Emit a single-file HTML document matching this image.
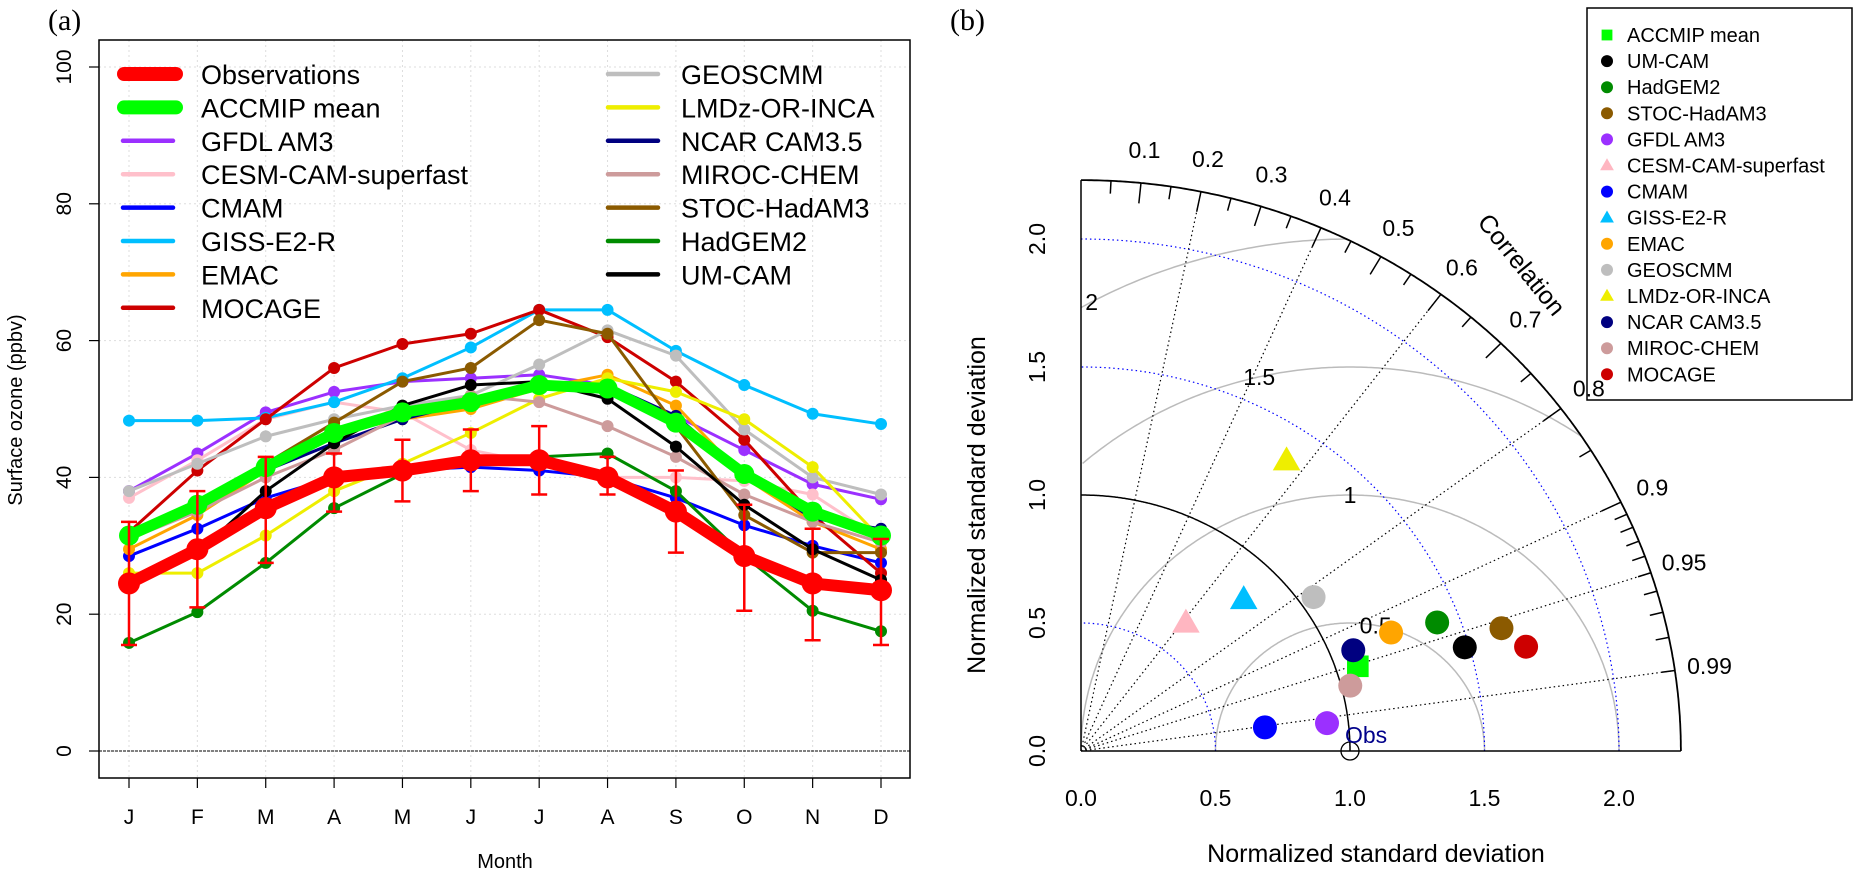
<!DOCTYPE html>
<html><head><meta charset="utf-8"><style>
body{margin:0;background:#fff}
svg{display:block;font-family:"Liberation Sans",sans-serif}
</style></head><body>
<svg id="chart" width="1858" height="874" viewBox="0 0 1858 874" xmlns="http://www.w3.org/2000/svg"></svg>
<script>
// ---------- Panel (a) data ----------
const months = ["J","F","M","A","M","J","J","A","S","O","N","D"];
const yTicks = [0,20,40,60,80,100];
const obsValues = [24.5,29.5,35.5,40,41,42.5,42.5,40,35,28.5,24.5,23.5];
const obsLow = [15.5,21,27.5,35,36.5,38,37.5,37.5,29,20.5,16.2,15.5];
const obsHigh = [33.5,38,43,43.5,45.5,47,47.5,43,41,36,32.5,31];
const accmipMean = [31.5,36,41.5,46.5,49.5,51,53.5,53,48,40.5,35,31.5];
const gfdl = [38,43.5,49.5,52.5,54,54.5,55,53.5,49,44,39,36.8];
const cesm = [37,42.5,48.5,51,49.5,44,42,40,40,39.5,37.5,31];
const cmam = [28.5,32.5,37,40,41,41.5,41,40,37,33,30,27.5];
const giss = [48.3,48.3,48.7,51,54.5,59,64.5,64.5,58.5,53.5,49.3,47.8];
const emac = [29.5,34.5,41,46.5,48.5,50,53,55,50.5,40,33.5,29.5];
const mocage = [32,41,48.5,56,59.5,61,64.5,60.5,54,45.5,34.5,26];
const geoscmm = [38,42,46,48.5,50.5,52,56.5,61.5,57.8,47,40,37.5];
const lmdz = [26,26,31.5,38,42,46.5,51.5,54.5,52.5,48.5,41.5,31];
const ncar = [32,35.5,41,45,48.5,51,53.5,53.5,49,40.5,34,32.5];
const miroc = [31,35,40,44,49,52,51,47.5,43,37.5,33.5,30.5];
const stoc = [32,36.5,42,48,54,56,63,61,47.5,34.5,29,29];
const hadgem = [15.8,20.3,27.5,35.5,40.5,42.5,43,43.5,38,28.5,20.5,17.5];
const umcam = [25,29,38,45,50.5,53.5,54,51.5,44.5,36,29.5,25];

// ---------- Panel (b) data ----------
const taylorNames = ["ACCMIP mean","UM-CAM","HadGEM2","STOC-HadAM3","GFDL AM3","CESM-CAM-superfast","CMAM","GISS-E2-R","EMAC","GEOSCMM","LMDz-OR-INCA","NCAR CAM3.5","MIROC-CHEM","MOCAGE"];
const taylorSd = [1.081,1.483,1.416,1.635,0.921,0.634,0.690,0.846,1.242,1.053,1.367,1.086,1.033,1.704];
const taylorCorr = [0.952,0.962,0.935,0.956,0.993,0.615,0.991,0.715,0.928,0.821,0.559,0.932,0.969,0.971];
const corrTicks = [0.1,0.2,0.3,0.4,0.5,0.6,0.7,0.8,0.9,0.95,0.99];
const corrLines = [0.2,0.4,0.6,0.8,0.9,0.95,0.99];
const sdTicks = [0,0.5,1,1.5,2];
const rmsLevels = [0.5,1,1.5,2];

const NS="http://www.w3.org/2000/svg";
const svg=document.getElementById('chart');
function mk(tag,attrs,parent){const e=document.createElementNS(NS,tag);for(const k in attrs)e.setAttribute(k,attrs[k]);(parent||svg).appendChild(e);return e;}
function txt(s,attrs,parent){const e=mk('text',attrs,parent);e.textContent=s;return e;}

// ---------- Panel (a) ----------
const A={l:99,r:910,t:40,b:778};
const xA=i=>129+i*(881-129)/11;
const yA=v=>751-v*6.84;
const gA=mk('g',{});


let t=txt('(a)',{x:48,y:30,'font-family':'Liberation Serif,serif','font-size':30},gA);

months.forEach((m,i)=>{mk('line',{x1:xA(i),x2:xA(i),y1:A.t,y2:A.b,stroke:'#ddd','stroke-dasharray':'2,3'},gA);});
yTicks.forEach(v=>{mk('line',{x1:A.l,x2:A.r,y1:yA(v),y2:yA(v),stroke:'#ddd','stroke-dasharray':'2,3'},gA);});
let zl=mk('line',{x1:A.l,x2:A.r,y1:yA(0),y2:yA(0),stroke:'#000','stroke-width':1,'stroke-dasharray':'3,1'},gA);

let box=mk('rect',{x:A.l,y:A.t,width:A.r-A.l,height:A.b-A.t,fill:'none',stroke:'#000','stroke-width':1.5},gA);

months.forEach((m,i)=>{
  mk('line',{x1:xA(i),x2:xA(i),y1:A.b,y2:A.b+10,stroke:'#000','stroke-width':1.2},gA);
  const e=txt(m,{x:xA(i),y:824,'text-anchor':'middle','font-size':21},gA);
  
});
yTicks.forEach(v=>{
  mk('line',{x1:A.l,x2:A.l-10,y1:yA(v),y2:yA(v),stroke:'#000','stroke-width':1.2},gA);
  const e=txt(String(v),{x:0,y:0,'text-anchor':'middle','font-size':21,transform:`translate(71,${yA(v)}) rotate(-90)`},gA);
  
});
t=txt('Month',{x:505,y:868,'text-anchor':'middle','font-size':20},gA);

t=txt('Surface ozone (ppbv)',{x:0,y:0,'text-anchor':'middle','font-size':20,transform:'translate(22,410) rotate(-90)'},gA);


const series=[
 ['GFDL AM3',gfdl,'#9b30ff'],['CESM-CAM-superfast',cesm,'#ffc0cb'],['CMAM',cmam,'#0000ff'],['GISS-E2-R',giss,'#00bfff'],
 ['EMAC',emac,'#ffa500'],['MOCAGE',mocage,'#cd0000'],['GEOSCMM',geoscmm,'#bebebe'],['LMDz-OR-INCA',lmdz,'#eeee00'],
 ['NCAR CAM3.5',ncar,'#000080'],['MIROC-CHEM',miroc,'#cd9b9b'],['STOC-HadAM3',stoc,'#8b5a00'],['HadGEM2',hadgem,'#008b00'],['UM-CAM',umcam,'#000000']];
function drawSeries(name,vals,color,w,r){
  const g=mk('g',{},gA);
  
  
  mk('polyline',{points:vals.map((v,i)=>xA(i)+','+yA(v)).join(' '),fill:'none',stroke:color,'stroke-width':w,'stroke-linejoin':'round'},g);
  vals.forEach((v,i)=>{const c=mk('circle',{cx:xA(i),cy:yA(v),r:r,fill:color},g);
    });
}
series.forEach(s=>drawSeries(s[0],s[1],s[2],3,6));
drawSeries('ACCMIP mean',accmipMean,'#00ff00',11,10);
const gE=mk('g',{},gA);

obsValues.forEach((v,i)=>{
  const x=xA(i);
  mk('line',{x1:x,x2:x,y1:yA(obsLow[i]),y2:yA(obsHigh[i]),stroke:'#ff0000','stroke-width':2.5},gE);
  mk('line',{x1:x-8,x2:x+8,y1:yA(obsLow[i]),y2:yA(obsLow[i]),stroke:'#ff0000','stroke-width':2.5},gE);
  mk('line',{x1:x-8,x2:x+8,y1:yA(obsHigh[i]),y2:yA(obsHigh[i]),stroke:'#ff0000','stroke-width':2.5},gE);
});
drawSeries('Observations',obsValues,'#ff0000',12,11);

const legA=[['Observations','#ff0000',14],['ACCMIP mean','#00ff00',14],['GFDL AM3','#9b30ff',4.5],['CESM-CAM-superfast','#ffc0cb',4.5],['CMAM','#0000ff',4.5],['GISS-E2-R','#00bfff',4.5],['EMAC','#ffa500',4.5],['MOCAGE','#cd0000',4.5],
 ['GEOSCMM','#bebebe',4.5],['LMDz-OR-INCA','#eeee00',4.5],['NCAR CAM3.5','#000080',4.5],['MIROC-CHEM','#cd9b9b',4.5],['STOC-HadAM3','#8b5a00',4.5],['HadGEM2','#008b00',4.5],['UM-CAM','#000000',4.5]];
const gL=mk('g',{},gA);

legA.forEach((e,i)=>{
  const col=i<8?0:1,row=i<8?i:i-8;
  const y=74+row*33.4;
  const lx=col?603:118, tx=col?681:201;
  const g=mk('g',{},gL);
  
  const thick=e[2]>5;
  mk('line',{x1:lx+(thick?6:5),x2:lx+(thick?58:55),y1:y,y2:y,stroke:e[1],'stroke-width':e[2],'stroke-linecap':'round'},g);
  txt(e[0],{x:tx,y:y+10,'font-size':27,textLength:'',},g);
});

// ---------- Panel (b) ----------
const O={x:1081,y:751},SX=269,SY=256,R=2.23;
const px=u=>O.x+u*SX, py=v=>O.y-v*SY;
const tColors=['#00ff00','#000000','#008b00','#8b5a00','#9b30ff','#ffb6c1','#0000ff','#00bfff','#ffa500','#bebebe','#eeee00','#000080','#cd9b9b','#cd0000'];
const tShapes=['sq','c','c','c','c','tri','c','tri','c','c','tri','c','c','c'];
function marker(shape,x,y,s,col,parent){
  if(shape==='sq')return mk('rect',{x:x-s*0.9,y:y-s*0.9,width:s*1.8,height:s*1.8,fill:col},parent);
  if(shape==='tri')return mk('polygon',{points:`${x},${y-s*1.2} ${x-s*1.15},${y+s*0.8} ${x+s*1.15},${y+s*0.8}`,fill:col},parent);
  return mk('circle',{cx:x,cy:y,r:s,fill:col},parent);
}
// legend b (drawn first so labels can overlap it)
const gLB=mk('g',{});

mk('rect',{x:1587,y:8,width:265,height:392,fill:'#fff',stroke:'#000','stroke-width':1.5},gLB);
taylorNames.forEach((n,i)=>{const y=35+i*26.1;
  const g=mk('g',{},gLB);
  
  marker(tShapes[i],1607,y,6,tColors[i],g);
  txt(n,{x:1627,y:y+7,'font-size':20},g);});

const gB=mk('g',{});

t=txt('(b)',{x:950,y:30,'font-family':'Liberation Serif,serif','font-size':30},gB);

function arcPath(cx,cy,r,a0,a1,filter){let d='',pen=false;for(let k=0;k<=360;k++){const a=a0+(a1-a0)*k/360;const u=cx+r*Math.cos(a),v=cy+r*Math.sin(a);
  if(filter&&!filter(u,v)){pen=false;continue;}d+=(pen?'L':'M')+px(u).toFixed(1)+','+py(v).toFixed(1);pen=true;}return d;}
rmsLevels.forEach(r=>{const p=mk('path',{d:arcPath(1,0,r,0,Math.PI,(u,v)=>u*u+v*v<=R*R&&v>=0&&u>=0),fill:'none',stroke:'#bbb','stroke-width':1.5},gB);
  });
const rmsLab=[[0.5,79],[1,90],[1.5,103],[2,118.7]];
rmsLab.forEach(([r,a])=>{const u=1+r*Math.cos(a*Math.PI/180),v=r*Math.sin(a*Math.PI/180);
  const e=txt(String(r),{x:px(u),y:py(v)+8,'text-anchor':'middle','font-size':23},gB);
  });
[0.5,1.5,2].forEach(r=>{const p=mk('path',{d:arcPath(0,0,r,0,Math.PI/2),fill:'none',stroke:'#0000ff','stroke-width':1.2,'stroke-dasharray':'1.5,3'},gB);
  });
let p1=mk('path',{d:arcPath(0,0,1,0,Math.PI/2),fill:'none',stroke:'#000','stroke-width':1.5},gB);

corrLines.forEach(c=>{const a=Math.acos(c);
  const l=mk('line',{x1:px(0),y1:py(0),x2:px(R*Math.cos(a)),y2:py(R*Math.sin(a)),stroke:'#000','stroke-width':1.2,'stroke-dasharray':'1.5,3'},gB);
  });
corrTicks.forEach(c=>{const a=Math.acos(c);
  const e=txt(String(c),{x:px(2.36*Math.cos(a)),y:py(2.36*Math.sin(a))+8,'text-anchor':'middle','font-size':23},gB);
  });
let oa=mk('path',{d:arcPath(0,0,R,0,Math.PI/2),fill:'none',stroke:'#000','stroke-width':1.8},gB);

const minor=[];for(let k=1;k<19;k++)minor.push(k*0.05);for(let k=91;k<=99;k++)minor.push(k/100);
minor.forEach(c=>{const a=Math.acos(c);const L=(Math.round(c*100)%10===0)?0.08:0.05;
  mk('line',{x1:px(R*Math.cos(a)),y1:py(R*Math.sin(a)),x2:px((R-L)*Math.cos(a)),y2:py((R-L)*Math.sin(a)),stroke:'#000','stroke-width':1.5},gB);});
mk('line',{x1:px(0),y1:py(0),x2:px(R),y2:py(0),stroke:'#000','stroke-width':1.5},gB);
mk('line',{x1:px(0),y1:py(0),x2:px(0),y2:py(R),stroke:'#000','stroke-width':1.5},gB);
sdTicks.forEach(s=>{
  let e=txt(s.toFixed(1),{x:px(s),y:806,'text-anchor':'middle','font-size':23},gB);
  
  e=txt(s.toFixed(1),{x:0,y:0,'text-anchor':'middle','font-size':23,transform:`translate(1045,${py(s)}) rotate(-90)`},gB);
  
});
t=txt('Normalized standard deviation',{x:1376,y:862,'text-anchor':'middle','font-size':25},gB);

t=txt('Normalized standard deviation',{x:0,y:0,'text-anchor':'middle','font-size':25,transform:'translate(985,505) rotate(-90)'},gB);

t=txt('Correlation',{x:0,y:0,'text-anchor':'middle','font-size':25,transform:'translate(1515,270) rotate(51)'},gB);

let oc=mk('circle',{cx:px(1),cy:py(0),r:9,fill:'none',stroke:'#000','stroke-width':1.3},gB);

t=txt('Obs',{x:px(1)-5,y:py(0)-8,'font-size':23,fill:'#00008b'},gB);

taylorSd.forEach((s,i)=>{const u=s*taylorCorr[i],v=s*Math.sqrt(1-taylorCorr[i]*taylorCorr[i]);
  const m=marker(tShapes[i],px(u),py(v),12,tColors[i],gB);
  });
</script>
</body></html>
